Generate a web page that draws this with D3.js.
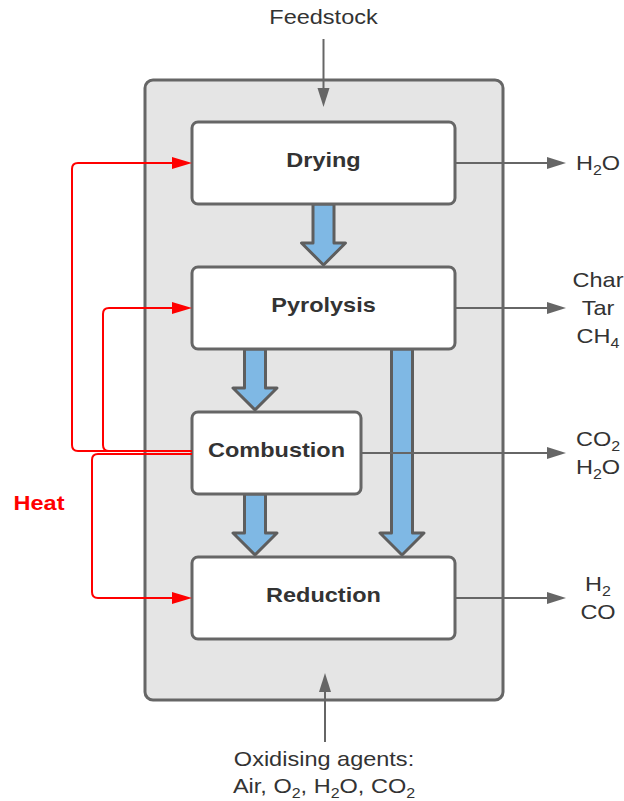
<!DOCTYPE html>
<html>
<head>
<meta charset="utf-8">
<script src="https://cdn.jsdelivr.net/npm/d3@7"></script>
<style>
  html, body { margin: 0; padding: 0; background: #fff; }
  svg { display: block; font-family: "Liberation Sans", Arial, sans-serif; }
</style>
</head>
<body>
<svg id="viz" width="624" height="801"></svg>
<script>
// gasifier process diagram
// stages stacked top to bottom, products leave on the right, heat loops on the left

// --- data ---
const stages = ["Drying", "Pyrolysis", "Combustion", "Reduction"];
// "_2" marks a subscript digit
const products = [["H_2O"], ["Char", "Tar", "CH_4"], ["CO_2", "H_2O"], ["H_2", "CO"]];
const solidFlows = [
  ["Drying", "Pyrolysis"],
  ["Pyrolysis", "Combustion"],
  ["Combustion", "Reduction"],
  ["Pyrolysis", "Reduction"],
];
const heatSource = "Combustion";
const heatTargets = ["Drying", "Pyrolysis", "Reduction"];
const feedLabel = "Feedstock";
const agentLines = ["Oxidising agents:", "Air, O_2, H_2O, CO_2"];
const heatLabel = "Heat";

// --- layout ---
const GREY = "#666666";
const TEXT = "#333333";
const RED = "#ff0000";
const BLUE = "#7fb8e4";
const SX = 1.12; // text in the picture is a little wider than the font

const boxLeft = 192;
const boxRight = d3.scaleOrdinal().domain(stages).range([455, 455, 361, 455]);
const flowX = [323.5, 255, 255, 402];
const heatX = [72, 103, 92];

const y = d3.scaleBand()
  .domain(stages)
  .range([122, 639])
  .paddingInner(0.434)
  .paddingOuter(0);
const mid = (s) => y(s) + y.bandwidth() / 2;

const svg = d3.select("#viz");

// writes "H_2O" style strings with subscripts
function richText(sel, str, size) {
  const parts = str.split(/_(\d)/);
  parts.forEach((p, i) => {
    if (!p) return;
    const sub = i % 2 === 1;
    sel.append("tspan")
      .attr("font-size", sub ? size * 0.68 : size)
      .attr("dy", sub ? 5 : (i > 0 && parts[i - 1] !== undefined && i % 2 === 0 && i > 1 ? -5 : 0))
      .text(p);
  });
}

function label(g, x, yy, str, opts = {}) {
  const size = opts.size || 21;
  const t = g.append("text")
    .attr("transform", `translate(${x},${yy}) scale(${SX},1)`)
    .attr("text-anchor", opts.anchor || "middle")
    .attr("fill", opts.fill || TEXT)
    .attr("font-weight", opts.bold ? "bold" : "normal")
    .attr("font-size", size);
  richText(t, str, size);
  return t;
}

function triangle(tipX, tipY, dir, len = 19, half = 6) {
  // dir: "right" | "down" | "up"
  if (dir === "right")
    return `M${tipX},${tipY}L${tipX - len},${tipY - half}L${tipX - len},${tipY + half}Z`;
  if (dir === "down")
    return `M${tipX},${tipY}L${tipX - half},${tipY - len}L${tipX + half},${tipY - len}Z`;
  return `M${tipX},${tipY}L${tipX - half},${tipY + len}L${tipX + half},${tipY + len}Z`;
}

// outer vessel
svg.append("rect")
  .attr("x", 145).attr("y", 80)
  .attr("width", 358).attr("height", 620)
  .attr("rx", 8)
  .attr("fill", "#e5e5e5")
  .attr("stroke", GREY)
  .attr("stroke-width", 3);

// blue solid-flow arrows
const sw = 10.5, hw = 22, hl = 22;
svg.append("g")
  .selectAll("path.flow")
  .data(solidFlows)
  .enter()
  .append("path")
  .attr("class", "flow")
  .attr("d", (d, i) => {
    const x = flowX[i];
    const y0 = y(d[0]) + y.bandwidth();
    const y1 = y(d[1]) - 2;
    return `M${x - sw},${y0}L${x + sw},${y0}L${x + sw},${y1 - hl}L${x + hw},${y1 - hl}` +
      `L${x},${y1}L${x - hw},${y1 - hl}L${x - sw},${y1 - hl}Z`;
  })
  .attr("fill", BLUE)
  .attr("stroke", "#5e5e5e")
  .attr("stroke-width", 3)
  .attr("stroke-linejoin", "round");

// stage boxes
const boxes = svg.append("g")
  .selectAll("g.stage")
  .data(stages)
  .enter()
  .append("g")
  .attr("class", "stage");

boxes.append("rect")
  .attr("x", boxLeft)
  .attr("y", (d) => y(d))
  .attr("width", (d) => boxRight(d) - boxLeft)
  .attr("height", y.bandwidth())
  .attr("rx", 6)
  .attr("fill", "#fff")
  .attr("stroke", GREY)
  .attr("stroke-width", 3);

boxes.each(function (d) {
  label(d3.select(this), (boxLeft + boxRight(d)) / 2, mid(d) + 4, d, { bold: true });
});

// product outlets
const out = svg.append("g");
stages.forEach((s, i) => {
  const yy = mid(s);
  out.append("path")
    .attr("d", `M${boxRight(s)},${yy}H548`)
    .attr("stroke", GREY)
    .attr("stroke-width", 2);
  out.append("path").attr("d", triangle(566, yy, "right")).attr("fill", GREY);
  const list = products[i];
  const lh = 28;
  list.forEach((p, k) => {
    const cy = yy + (k - (list.length - 1) / 2) * lh;
    label(out, 598, cy + 7, p);
  });
});

// feedstock in
out.append("path").attr("d", "M323.5,39V90").attr("stroke", GREY).attr("stroke-width", 2);
out.append("path").attr("d", triangle(323.5, 107, "down")).attr("fill", GREY);
label(out, 323.5, 24, feedLabel);

// oxidising agents in
out.append("path").attr("d", "M325,742V690").attr("stroke", GREY).attr("stroke-width", 2);
out.append("path").attr("d", triangle(325, 673, "up")).attr("fill", GREY);
agentLines.forEach((t, i) => label(out, 324, 766 + i * 27, t));

// heat loops from combustion
const heat = svg.append("g");
const r = 6;
heatTargets.forEach((t, i) => {
  const x = heatX[i];
  const ty = mid(t);
  const up = ty < mid(heatSource);
  const sy = mid(heatSource) + (up ? -2 : 1);
  const s = up ? -1 : 1;
  const d = `M${boxLeft},${sy}H${x + r}Q${x},${sy} ${x},${sy + s * r}` +
    `V${ty - s * r}Q${x},${ty} ${x + r},${ty}H${boxLeft - 18}`;
  heat.append("path")
    .attr("d", d)
    .attr("fill", "none")
    .attr("stroke", RED)
    .attr("stroke-width", 2);
  heat.append("path").attr("d", triangle(boxLeft, ty, "right", 20, 6)).attr("fill", RED);
});
label(heat, 39, 510, heatLabel, { bold: true, fill: RED });
</script>
</body>
</html>
